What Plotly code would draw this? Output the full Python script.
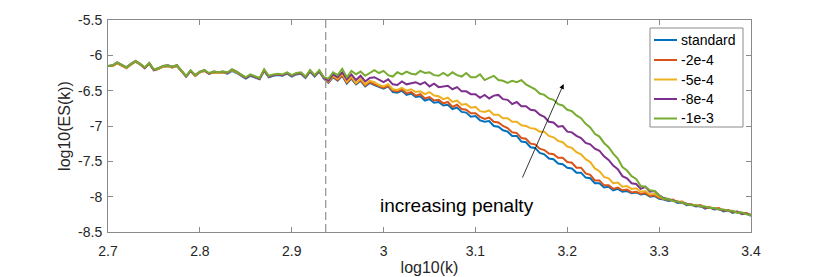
import plotly.graph_objects as go

# ---------------- data ----------------
log_k = [2.700, 2.705, 2.710, 2.715, 2.720, 2.725, 2.730, 2.735, 2.740, 2.745,
         2.750, 2.755, 2.760, 2.765, 2.770, 2.775, 2.780, 2.785, 2.790, 2.795,
         2.800, 2.805, 2.810, 2.815, 2.820, 2.825, 2.830, 2.835, 2.840, 2.845,
         2.850, 2.855, 2.860, 2.865, 2.870, 2.875, 2.880, 2.885, 2.890, 2.895,
         2.900, 2.905, 2.910, 2.915, 2.920, 2.925, 2.930, 2.935, 2.940, 2.945,
         2.950, 2.955, 2.960, 2.965, 2.970, 2.975, 2.980, 2.985, 2.990, 2.995,
         3.000, 3.005, 3.010, 3.015, 3.020, 3.025, 3.030, 3.035, 3.040, 3.045,
         3.050, 3.055, 3.060, 3.065, 3.070, 3.075, 3.080, 3.085, 3.090, 3.095,
         3.100, 3.105, 3.110, 3.115, 3.120, 3.125, 3.130, 3.135, 3.140, 3.145,
         3.150, 3.155, 3.160, 3.165, 3.170, 3.175, 3.180, 3.185, 3.190, 3.195,
         3.200, 3.205, 3.210, 3.215, 3.220, 3.225, 3.230, 3.235, 3.240, 3.245,
         3.250, 3.255, 3.260, 3.265, 3.270, 3.275, 3.280, 3.285, 3.290, 3.295,
         3.300, 3.305, 3.310, 3.315, 3.320, 3.325, 3.330, 3.335, 3.340, 3.345,
         3.350, 3.355, 3.360, 3.365, 3.370, 3.375, 3.380, 3.385, 3.390, 3.395,
         3.400]

es_standard = [-6.15, -6.15, -6.11, -6.15, -6.18, -6.13, -6.09, -6.13, -6.18, -6.12,
               -6.21, -6.19, -6.16, -6.15, -6.17, -6.15, -6.23, -6.30, -6.22, -6.29,
               -6.24, -6.22, -6.26, -6.24, -6.25, -6.24, -6.26, -6.22, -6.25, -6.29,
               -6.33, -6.29, -6.31, -6.34, -6.22, -6.31, -6.29, -6.28, -6.29, -6.26,
               -6.30, -6.27, -6.26, -6.32, -6.23, -6.30, -6.23, -6.33, -6.39, -6.31,
               -6.36, -6.29, -6.40, -6.33, -6.41, -6.36, -6.44, -6.39, -6.42, -6.45,
               -6.47, -6.44, -6.52, -6.53, -6.50, -6.56, -6.54, -6.59, -6.58, -6.64,
               -6.62, -6.67, -6.66, -6.71, -6.70, -6.76, -6.74, -6.80, -6.81, -6.87,
               -6.86, -6.92, -6.94, -6.93, -7.00, -7.01, -7.06, -7.08, -7.14, -7.14,
               -7.22, -7.23, -7.30, -7.31, -7.38, -7.40, -7.46, -7.47, -7.53, -7.54,
               -7.59, -7.60, -7.66, -7.66, -7.73, -7.74, -7.81, -7.81, -7.87, -7.86,
               -7.91, -7.89, -7.93, -7.92, -7.95, -7.94, -7.97, -7.96, -8.00, -7.99,
               -8.03, -8.04, -8.06, -8.05, -8.09, -8.08, -8.12, -8.11, -8.14, -8.13,
               -8.17, -8.15, -8.18, -8.17, -8.21, -8.19, -8.23, -8.21, -8.25, -8.24,
               -8.27]

es_2e4 = [-6.15, -6.15, -6.11, -6.15, -6.18, -6.13, -6.09, -6.13, -6.18, -6.12,
          -6.21, -6.19, -6.16, -6.15, -6.17, -6.15, -6.23, -6.30, -6.22, -6.29,
          -6.24, -6.22, -6.26, -6.24, -6.25, -6.24, -6.25, -6.21, -6.24, -6.28,
          -6.32, -6.28, -6.30, -6.33, -6.21, -6.30, -6.28, -6.27, -6.28, -6.25,
          -6.29, -6.26, -6.25, -6.31, -6.22, -6.29, -6.22, -6.32, -6.38, -6.30,
          -6.35, -6.28, -6.39, -6.32, -6.40, -6.35, -6.43, -6.38, -6.41, -6.44,
          -6.46, -6.43, -6.50, -6.51, -6.48, -6.54, -6.52, -6.57, -6.55, -6.61,
          -6.59, -6.64, -6.63, -6.68, -6.66, -6.73, -6.70, -6.76, -6.77, -6.82,
          -6.82, -6.87, -6.90, -6.88, -6.94, -6.95, -7.00, -7.03, -7.09, -7.10,
          -7.17, -7.18, -7.25, -7.26, -7.32, -7.34, -7.39, -7.40, -7.45, -7.45,
          -7.51, -7.52, -7.59, -7.59, -7.67, -7.69, -7.77, -7.77, -7.84, -7.84,
          -7.89, -7.87, -7.91, -7.90, -7.94, -7.93, -7.96, -7.95, -7.99, -7.98,
          -8.02, -8.03, -8.05, -8.04, -8.08, -8.07, -8.11, -8.11, -8.13, -8.12,
          -8.16, -8.15, -8.17, -8.16, -8.20, -8.19, -8.22, -8.21, -8.24, -8.23,
          -8.26]

es_5e4 = [-6.15, -6.15, -6.11, -6.15, -6.18, -6.13, -6.09, -6.13, -6.18, -6.12,
          -6.21, -6.19, -6.16, -6.15, -6.17, -6.15, -6.23, -6.30, -6.22, -6.29,
          -6.24, -6.22, -6.26, -6.24, -6.25, -6.24, -6.25, -6.21, -6.24, -6.28,
          -6.32, -6.28, -6.30, -6.33, -6.21, -6.30, -6.28, -6.27, -6.28, -6.25,
          -6.29, -6.26, -6.25, -6.31, -6.22, -6.29, -6.22, -6.32, -6.37, -6.29,
          -6.33, -6.26, -6.37, -6.30, -6.39, -6.33, -6.41, -6.36, -6.38, -6.42,
          -6.44, -6.41, -6.48, -6.49, -6.46, -6.50, -6.48, -6.52, -6.51, -6.55,
          -6.52, -6.57, -6.58, -6.62, -6.60, -6.66, -6.64, -6.70, -6.69, -6.74,
          -6.73, -6.79, -6.80, -6.78, -6.84, -6.84, -6.89, -6.89, -6.94, -6.94,
          -6.99, -7.00, -7.03, -7.04, -7.08, -7.08, -7.14, -7.16, -7.21, -7.23,
          -7.29, -7.31, -7.37, -7.40, -7.47, -7.51, -7.60, -7.64, -7.72, -7.74,
          -7.81, -7.80, -7.86, -7.85, -7.89, -7.88, -7.93, -7.92, -7.97, -7.96,
          -8.00, -8.03, -8.04, -8.05, -8.07, -8.08, -8.10, -8.11, -8.12, -8.13,
          -8.15, -8.15, -8.17, -8.17, -8.19, -8.20, -8.21, -8.22, -8.23, -8.24,
          -8.26]

es_8e4 = [-6.15, -6.14, -6.10, -6.14, -6.17, -6.12, -6.08, -6.12, -6.18, -6.11,
          -6.21, -6.18, -6.15, -6.14, -6.16, -6.14, -6.22, -6.30, -6.22, -6.28,
          -6.23, -6.21, -6.26, -6.23, -6.24, -6.23, -6.25, -6.20, -6.23, -6.28,
          -6.32, -6.28, -6.30, -6.33, -6.21, -6.30, -6.28, -6.27, -6.28, -6.25,
          -6.29, -6.26, -6.25, -6.31, -6.22, -6.29, -6.22, -6.32, -6.36, -6.27,
          -6.31, -6.24, -6.34, -6.27, -6.35, -6.29, -6.37, -6.32, -6.31, -6.35,
          -6.38, -6.34, -6.41, -6.42, -6.37, -6.41, -6.40, -6.38, -6.41, -6.38,
          -6.44, -6.40, -6.45, -6.44, -6.43, -6.48, -6.45, -6.51, -6.51, -6.55,
          -6.55, -6.60, -6.56, -6.61, -6.57, -6.56, -6.62, -6.63, -6.69, -6.66,
          -6.72, -6.72, -6.77, -6.78, -6.84, -6.87, -6.94, -6.95, -7.01, -7.00,
          -7.08, -7.09, -7.14, -7.17, -7.24, -7.26, -7.32, -7.35, -7.43, -7.48,
          -7.56, -7.61, -7.71, -7.74, -7.81, -7.82, -7.89, -7.86, -7.93, -7.92,
          -7.98, -8.02, -8.04, -8.06, -8.07, -8.09, -8.10, -8.12, -8.13, -8.14,
          -8.15, -8.16, -8.16, -8.18, -8.19, -8.20, -8.21, -8.22, -8.23, -8.24,
          -8.26]

es_1e3 = [-6.15, -6.14, -6.10, -6.14, -6.17, -6.12, -6.08, -6.12, -6.17, -6.11,
          -6.20, -6.18, -6.15, -6.14, -6.16, -6.14, -6.22, -6.29, -6.21, -6.28,
          -6.23, -6.21, -6.25, -6.23, -6.24, -6.23, -6.24, -6.20, -6.23, -6.27,
          -6.31, -6.27, -6.29, -6.32, -6.20, -6.29, -6.27, -6.26, -6.27, -6.24,
          -6.28, -6.25, -6.24, -6.30, -6.21, -6.28, -6.21, -6.31, -6.33, -6.24,
          -6.28, -6.19, -6.31, -6.22, -6.27, -6.23, -6.29, -6.25, -6.21, -6.25,
          -6.22, -6.28, -6.30, -6.24, -6.27, -6.23, -6.26, -6.27, -6.22, -6.25,
          -6.24, -6.28, -6.29, -6.25, -6.29, -6.24, -6.28, -6.30, -6.25, -6.31,
          -6.31, -6.27, -6.35, -6.32, -6.29, -6.35, -6.36, -6.39, -6.36, -6.38,
          -6.35, -6.41, -6.45, -6.48, -6.54, -6.56, -6.61, -6.63, -6.69, -6.71,
          -6.77, -6.79, -6.85, -6.89, -6.97, -7.02, -7.11, -7.15, -7.24, -7.30,
          -7.39, -7.46, -7.58, -7.63, -7.71, -7.75, -7.85, -7.86, -7.91, -7.92,
          -7.98, -8.03, -8.03, -8.06, -8.07, -8.09, -8.10, -8.12, -8.12, -8.14,
          -8.14, -8.16, -8.16, -8.18, -8.18, -8.20, -8.20, -8.23, -8.22, -8.25,
          -8.26]

series_names = ["standard", "-2e-4", "-5e-4", "-8e-4", "-1e-3"]
series_values = [es_standard, es_2e4, es_5e4, es_8e4, es_1e3]
series_colors = ["#0072BD", "#D95319", "#EDB120", "#7E2F8E", "#77AC30"]

x_ticks = [2.7, 2.8, 2.9, 3.0, 3.1, 3.2, 3.3, 3.4]
x_tick_labels = ["2.7", "2.8", "2.9", "3", "3.1", "3.2", "3.3", "3.4"]
y_ticks = [-8.5, -8.0, -7.5, -7.0, -6.5, -6.0, -5.5]
y_tick_labels = ["-8.5", "-8", "-7.5", "-7", "-6.5", "-6", "-5.5"]

dash_x = 2.937
arrow_tail = (3.1505, -7.75)
arrow_head = (3.196, -6.406)
label_pos = (3.08, -8.13)
label_text = "increasing penalty"

# ---------------- layout geometry (page pixels) ----------------
W, H = 830, 277
OFF = 8  # default body margin of the html page
PL, PR, PT, PB = 108, 751, 20, 232  # plot area in page pixels


def px_x(p):
    return (p - PL) / (PR - PL)


def px_y(p):
    return 1 - (p - PT) / (PB - PT)


FONT = "Liberation Sans, Arial, Helvetica, sans-serif"
AX_COL = "#8a8a8a"

fig = go.Figure()
for name, vals, col in zip(series_names, series_values, series_colors):
    fig.add_trace(go.Scatter(x=log_k, y=vals, mode="lines", name=name,
                             line=dict(color=col, width=2), showlegend=False))

axis_common = dict(showgrid=False, zeroline=False, showline=True,
                   linecolor=AX_COL, linewidth=1, mirror="ticks",
                   ticks="inside", ticklen=5, tickcolor=AX_COL,
                   automargin=False,
                   tickfont=dict(family=FONT, size=14, color="#262626"))

fig.update_layout(
    width=W, height=H,
    margin=dict(l=PL - OFF, r=W - PR + OFF, t=PT - OFF, b=H - PB + OFF),
    paper_bgcolor="white", plot_bgcolor="white",
    font=dict(family=FONT, size=14, color="#262626"),
    xaxis=dict(range=[2.7, 3.4], tickvals=x_ticks, ticktext=x_tick_labels,
               ticklabelstandoff=6,
               title=dict(text="log10(k)", font=dict(size=16), standoff=4),
               **axis_common),
    yaxis=dict(range=[-8.5, -5.5], tickvals=y_ticks, ticktext=y_tick_labels,
               ticklabelstandoff=2,
               title=dict(text="log10(ES(k))", font=dict(size=16), standoff=3),
               **axis_common),
    showlegend=False,
)

# dashed reference line
fig.add_shape(type="line", xref="x", yref="paper", x0=dash_x, x1=dash_x,
              y0=0, y1=1, line=dict(color="#999999", width=1.3, dash="8px,4px"))

# arrow + label
fig.add_annotation(x=arrow_head[0], y=arrow_head[1], ax=arrow_tail[0], ay=arrow_tail[1],
                   xref="x", yref="y", axref="x", ayref="y", text="",
                   showarrow=True, arrowhead=2, arrowsize=1.2, arrowwidth=0.8,
                   arrowcolor="#000000")
fig.add_annotation(x=label_pos[0], y=label_pos[1], xref="x", yref="y",
                   text=label_text, showarrow=False,
                   font=dict(family=FONT, size=19, color="#000000"))

# legend (MATLAB-style box)
LX0, LX1, LY0, LY1 = 650, 743, 28, 127
fig.add_shape(type="rect", xref="paper", yref="paper",
              x0=px_x(LX0), x1=px_x(LX1), y0=px_y(LY1), y1=px_y(LY0),
              line=dict(color=AX_COL, width=1), fillcolor="white", layer="above")
item_y = [40, 60, 79.5, 99, 118.5]
for name, col, yy in zip(series_names, series_colors, item_y):
    fig.add_shape(type="line", xref="paper", yref="paper",
                  x0=px_x(654), x1=px_x(677), y0=px_y(yy), y1=px_y(yy),
                  line=dict(color=col, width=2), layer="above")
    fig.add_annotation(x=px_x(679), y=px_y(yy), xref="paper", yref="paper",
                       text=name, showarrow=False, xanchor="left", yanchor="middle",
                       font=dict(family=FONT, size=14, color="#000000"))

fig.write_html("out.html")
